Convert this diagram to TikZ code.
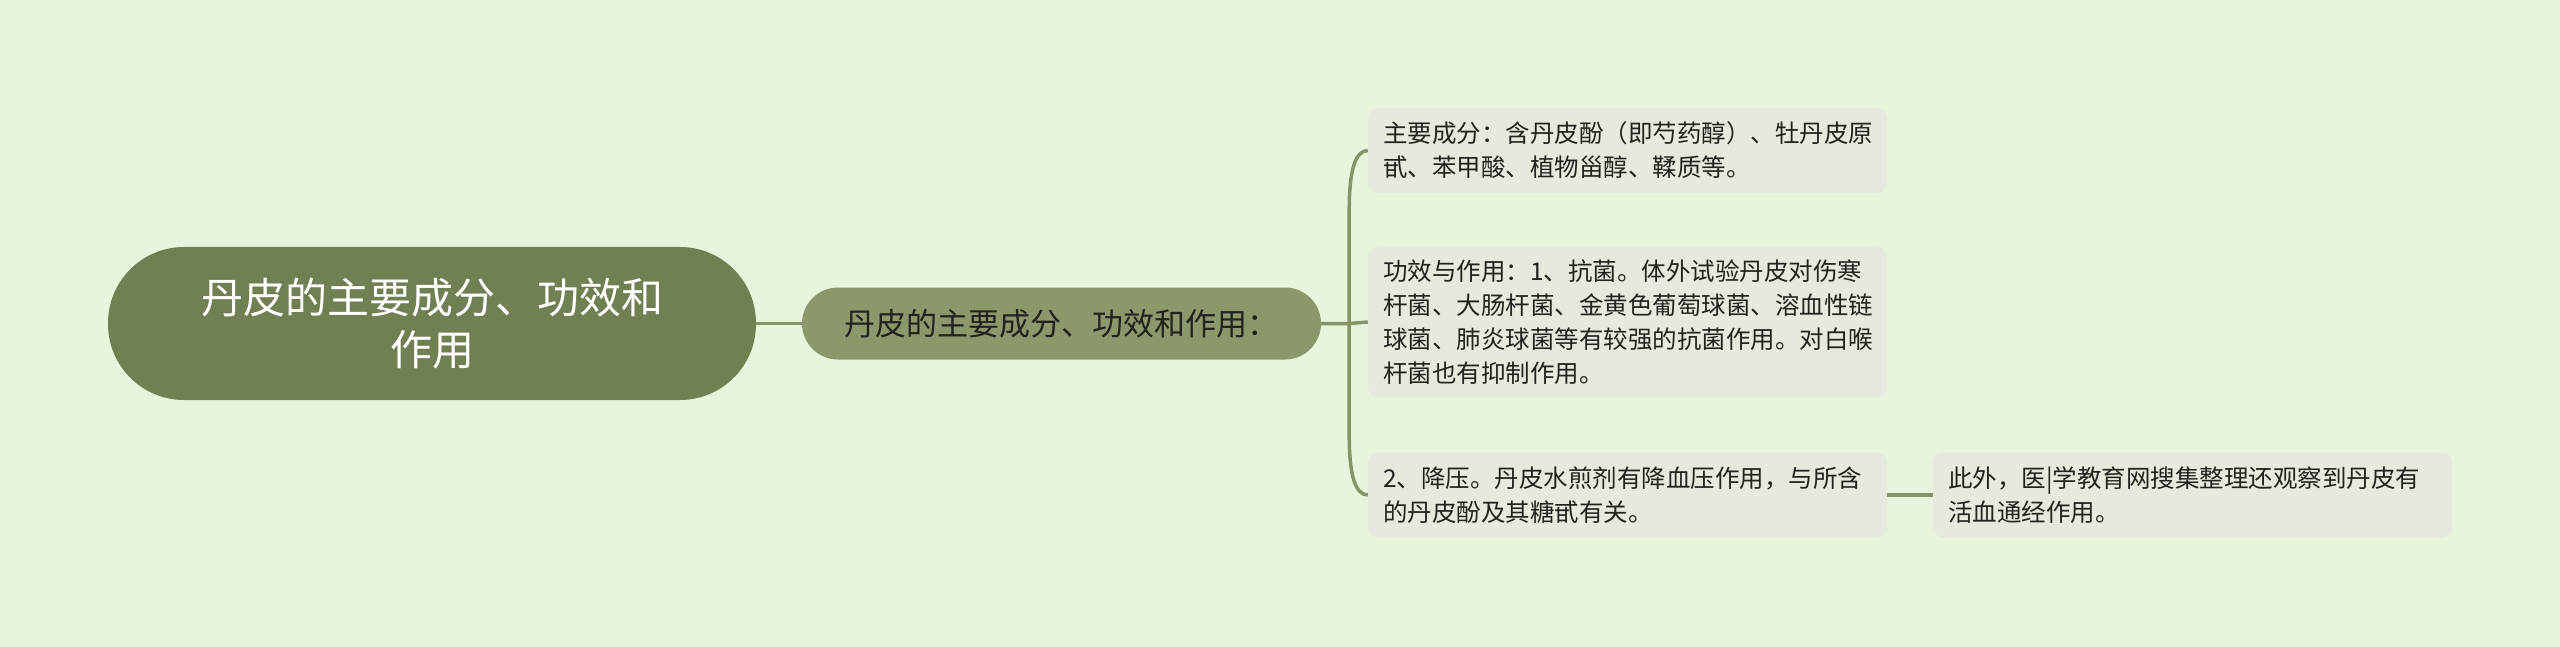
\documentclass[tikz,border=0pt]{standalone}
\usepackage{fontspec}
\setmainfont{Noto Sans CJK SC}
\usepackage{tikz}
\usetikzlibrary{calc}

\definecolor{bgcol}{RGB}{232,244,219}
\definecolor{rootcol}{RGB}{113,128,82}
\definecolor{subcol}{RGB}{138,152,107}
\definecolor{leafcol}{RGB}{229,233,222}
\definecolor{linkcol}{RGB}{134,148,104}
\definecolor{txtcol}{RGB}{34,34,30}

\begin{document}
\begin{tikzpicture}[x=1pt, y=-1pt,
  rootbox/.style={fill=rootcol, text=white, minimum width=648pt, minimum height=153pt,
    rounded corners=76pt, align=center, font=\fontsize{42}{52}\selectfont},
  subbox/.style={fill=subcol, text=txtcol, minimum width=519pt, minimum height=72pt,
    rounded corners=36pt, font=\fontsize{31}{38}\selectfont},
  leafbox/.style={fill=leafcol, text=txtcol, text width=489pt, inner xsep=15pt,
    rounded corners=10pt, align=left, font=\fontsize{24.5}{34}\selectfont},
  link/.style={draw=linkcol, line width=3.5pt}]
  \fill[bgcol] (0, 0) rectangle (2560, 647);
  \useasboundingbox (0, 0) rectangle (2560, 647);

  \draw (432, 323.5) node[rootbox] (r) {丹皮的主要成分、功效和\\作用};
  \draw ($(r) + (629.5, 0)$) node[subbox] (s) {丹皮的主要成分、功效和作用：};

% leaves
  \draw ($(s) + (566, -173)$) node[leafbox, minimum height=85pt] (c1)
    {主要成分：含丹皮酚（即芍药醇）、牡丹皮原\\甙、苯甲酸、植物甾醇、鞣质等。};
  \draw ($(s) + (566, -1.5)$) node[leafbox, minimum height=150pt] (c2)
    {功效与作用：1、抗菌。体外试验丹皮对伤寒\\杆菌、大肠杆菌、金黄色葡萄球菌、溶血性链\\球菌、肺炎球菌等有较强的抗菌作用。对白喉\\杆菌也有抑制作用。};
  \draw ($(s) + (566, 171.5)$) node[leafbox, minimum height=85pt] (c3)
    {2、降压。丹皮水煎剂有降血压作用，与所含\\的丹皮酚及其糖甙有关。};
  \draw ($(c3) + (565, 0)$) node[leafbox, minimum height=85pt] (d1)
    {此外，医|学教育网搜集整理还观察到丹皮有\\活血通经作用。};

% links
  \coordinate (f) at ($(s.east) + (28, 0)$);
  \draw[link] (r.east) -- (s.west);
  \draw[link] (s.east) -- (f) -- (c2.west);
  \draw[link] (f) -- ($(f |- c1.west) + (0, 60)$)
    .. controls ($(f |- c1.west) + (0, 20)$) and ($(f |- c1.west) + (6, 0)$) .. (c1.west);
  \draw[link] (f) -- ($(f |- c3.west) - (0, 60)$)
    .. controls ($(f |- c3.west) - (0, 20)$) and ($(f |- c3.west) + (6, 0)$) .. (c3.west);
  \draw[link] (c3.east) -- (d1.west);
\end{tikzpicture}
\end{document}
